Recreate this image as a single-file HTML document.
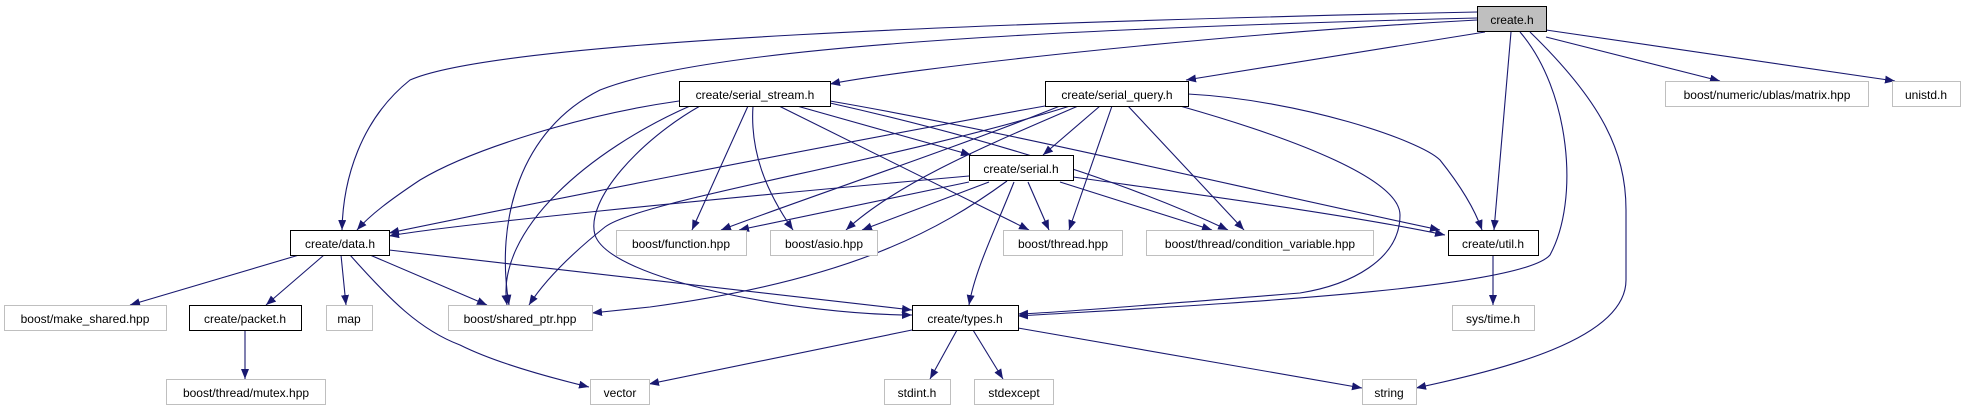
<!DOCTYPE html>
<html><head><meta charset="utf-8"><style>
html,body{margin:0;padding:0;background:#fff;}
svg{display:block;}
text{font-family:"Liberation Sans",sans-serif;font-size:12px;fill:#000;}
.e{fill:none;stroke:#191970;stroke-width:1.1;marker-end:url(#a);}
.g{fill:#fff;stroke:#bfbfbf;stroke-width:1;}
.b{fill:#fff;stroke:#000;stroke-width:1;}
</style></head><body>
<svg width="1965" height="411" viewBox="0 0 1965 411" xmlns="http://www.w3.org/2000/svg">
<defs><marker id="a" markerUnits="userSpaceOnUse" markerWidth="12" markerHeight="10" refX="10" refY="4" orient="auto"><path d="M0,0 L10,4 L0,8 Z" fill="#191970"/></marker></defs>
<!-- create.h edges -->
<path class="e" d="M1477,12 C1000,22 500,40 410,80 C360,120 343,180 342,230"/>
<path class="e" d="M1477,20 C1200,35 900,70 830,84"/>
<path class="e" d="M1485,32 L1186,80"/>
<path class="e" d="M1477,18 C1000,30 700,50 600,90 C520,130 495,220 509,305"/>
<path class="e" d="M1546,37 L1720,81"/>
<path class="e" d="M1546,30 L1895,81"/>
<path class="e" d="M1511,32 L1494,230"/>
<path class="e" d="M1520,32 C1570,90 1580,200 1550,255 C1520,290 1200,305 1018,316"/>
<path class="e" d="M1530,32 C1600,100 1626,150 1626,210 L1626,280 C1626,340 1500,370 1416,388"/>
<!-- serial_stream edges -->
<path class="e" d="M679,101 C580,115 470,150 420,180 C390,200 370,215 357,230"/>
<path class="e" d="M748,106 L692,230"/>
<path class="e" d="M753,106 C750,150 765,190 793,230"/>
<path class="e" d="M779,106 L1029,230"/>
<path class="e" d="M797,106 L971,155"/>
<path class="e" d="M830,103 C950,130 1100,170 1228,230"/>
<path class="e" d="M830,101 C1000,130 1250,190 1440,230"/>
<path class="e" d="M690,106 C590,150 495,230 507,305"/>
<path class="e" d="M700,106 C640,140 585,200 595,235 C610,280 800,315 912,315"/>
<!-- serial_query edges -->
<path class="e" d="M1045,106 C800,150 500,210 389,233"/>
<path class="e" d="M1060,106 C950,150 800,200 721,230"/>
<path class="e" d="M1078,106 C1000,140 900,180 846,230"/>
<path class="e" d="M1070,106 C900,160 640,200 605,227 C570,255 545,280 529,305"/>
<path class="e" d="M1100,106 L1043,155"/>
<path class="e" d="M1112,106 L1069,230"/>
<path class="e" d="M1128,106 L1244,230"/>
<path class="e" d="M1188,94 C1300,100 1420,140 1440,160 C1460,185 1475,210 1482,230"/>
<path class="e" d="M1180,106 C1300,140 1400,180 1400,215 C1400,260 1350,285 1300,293 C1150,305 1050,313 1018,314"/>
<!-- serial.h edges -->
<path class="e" d="M969,176 C700,200 450,225 389,236"/>
<path class="e" d="M969,182 L739,230"/>
<path class="e" d="M989,182 L862,230"/>
<path class="e" d="M1028,182 L1049,230"/>
<path class="e" d="M1060,182 L1212,230"/>
<path class="e" d="M1073,177 C1200,195 1350,215 1445,235"/>
<path class="e" d="M1014,182 C995,230 975,270 969,305"/>
<path class="e" d="M1007,181 C940,230 850,280 650,307 L592,313"/>
<!-- data.h edges -->
<path class="e" d="M299,255 L130,305"/>
<path class="e" d="M324,255 L266,305"/>
<path class="e" d="M341,255 L346,305"/>
<path class="e" d="M370,255 L487,305"/>
<path class="e" d="M350,255 C390,300 420,330 460,345 C500,365 560,380 589,387"/>
<path class="e" d="M389,250 L912,310"/>
<path class="e" d="M245,330 L245,379"/>
<path class="e" d="M1493,255 L1493,305"/>
<!-- types.h edges -->
<path class="e" d="M912,330 L649,384"/>
<path class="e" d="M957,330 L930,379"/>
<path class="e" d="M973,330 L1003,379"/>
<path class="e" d="M1018,328 L1362,388"/>
<!-- nodes -->
<rect x="1477.5" y="6.5" width="69" height="25" fill="#bfbfbf" stroke="#000"/><text x="1512" y="24" text-anchor="middle">create.h</text>
<rect class="b" x="679.5" y="81.5" width="151" height="25"/><text x="755" y="99" text-anchor="middle">create/serial_stream.h</text>
<rect class="b" x="1045.5" y="81.5" width="143" height="25"/><text x="1117" y="99" text-anchor="middle">create/serial_query.h</text>
<rect class="g" x="1665.5" y="81.5" width="203" height="25"/><text x="1767" y="99" text-anchor="middle">boost/numeric/ublas/matrix.hpp</text>
<rect class="g" x="1892.5" y="81.5" width="68" height="25"/><text x="1926" y="99" text-anchor="middle">unistd.h</text>
<rect class="b" x="969.5" y="155.5" width="104" height="25"/><text x="1021" y="173" text-anchor="middle">create/serial.h</text>
<rect class="b" x="290.5" y="230.5" width="99" height="25"/><text x="340" y="248" text-anchor="middle">create/data.h</text>
<rect class="g" x="616.5" y="230.5" width="130" height="25"/><text x="681" y="248" text-anchor="middle">boost/function.hpp</text>
<rect class="g" x="770.5" y="230.5" width="107" height="25"/><text x="824" y="248" text-anchor="middle">boost/asio.hpp</text>
<rect class="g" x="1003.5" y="230.5" width="119" height="25"/><text x="1063" y="248" text-anchor="middle">boost/thread.hpp</text>
<rect class="g" x="1146.5" y="230.5" width="227" height="25"/><text x="1260" y="248" text-anchor="middle">boost/thread/condition_variable.hpp</text>
<rect class="b" x="1448.5" y="230.5" width="90" height="25"/><text x="1493" y="248" text-anchor="middle">create/util.h</text>
<rect class="g" x="4.5" y="305.5" width="162" height="25"/><text x="85" y="323" text-anchor="middle">boost/make_shared.hpp</text>
<rect class="b" x="189.5" y="305.5" width="112" height="25"/><text x="245" y="323" text-anchor="middle">create/packet.h</text>
<rect class="g" x="326.5" y="305.5" width="46" height="25"/><text x="349" y="323" text-anchor="middle">map</text>
<rect class="g" x="448.5" y="305.5" width="144" height="25"/><text x="520" y="323" text-anchor="middle">boost/shared_ptr.hpp</text>
<rect class="b" x="912.5" y="305.5" width="106" height="25"/><text x="965" y="323" text-anchor="middle">create/types.h</text>
<rect class="g" x="1452.5" y="305.5" width="82" height="25"/><text x="1493" y="323" text-anchor="middle">sys/time.h</text>
<rect class="g" x="166.5" y="379.5" width="159" height="25"/><text x="246" y="397" text-anchor="middle">boost/thread/mutex.hpp</text>
<rect class="g" x="590.5" y="379.5" width="59" height="25"/><text x="620" y="397" text-anchor="middle">vector</text>
<rect class="g" x="884.5" y="379.5" width="66" height="25"/><text x="917" y="397" text-anchor="middle">stdint.h</text>
<rect class="g" x="974.5" y="379.5" width="79" height="25"/><text x="1014" y="397" text-anchor="middle">stdexcept</text>
<rect class="g" x="1362.5" y="379.5" width="54" height="25"/><text x="1389" y="397" text-anchor="middle">string</text>
</svg>
</body></html>
